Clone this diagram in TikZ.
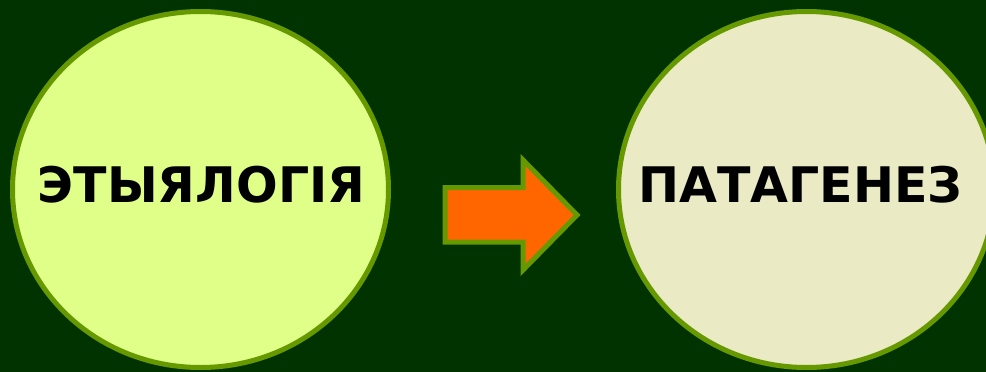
\documentclass[tikz,border=0pt]{standalone}
\usepackage{fontspec}
\setmainfont{DejaVu Sans}
\usetikzlibrary{shapes.geometric}
\definecolor{bgcol}{RGB}{0,51,0}
\definecolor{rimcol}{RGB}{102,153,0}
\definecolor{leftfill}{RGB}{224,255,136}
\definecolor{rightfill}{RGB}{234,234,196}
\definecolor{arrowfill}{RGB}{255,102,0}
\begin{document}
\begin{tikzpicture}[x=1pt,y=-1pt,
  bubble/.style={ellipse, draw=rimcol, line width=5pt, inner sep=0pt,
    minimum width=376pt, minimum height=356pt},
  word/.style={font=\fontsize{49}{49}\selectfont\bfseries, text=black, inner sep=0pt},
  blockarrow/.style={draw=rimcol, fill=arrowfill, line width=5pt, line join=miter}]
\fill[bgcol] (0,0) rectangle (986,372);
\useasboundingbox (0,0) rectangle (986,372);
\begin{scope}
\clip (0,0) rectangle (986,372);
\node[bubble, fill=leftfill] (etio) at (200.5,189.5) {};
\node[bubble, fill=rightfill] (pato) at (806.5,189.5) {};
\node[word] (etiotext) at (201.5,185) {ЭТЫЯЛОГІЯ};
\node[word] (patotext) at (800.5,185) {ПАТАГЕНЕЗ};
\end{scope}
\coordinate (a1) at (445,187.5);
\coordinate (a2) at (523,187.5);
\coordinate (a3) at (523,160);
\coordinate (a4) at (577,215);
\coordinate (a5) at (523,270);
\coordinate (a6) at (523,242);
\coordinate (a7) at (445,242);
\draw[blockarrow] (a1) -- (a2) -- (a3) -- (a4) -- (a5) -- (a6) -- (a7) -- cycle;
\end{tikzpicture}
\end{document}
